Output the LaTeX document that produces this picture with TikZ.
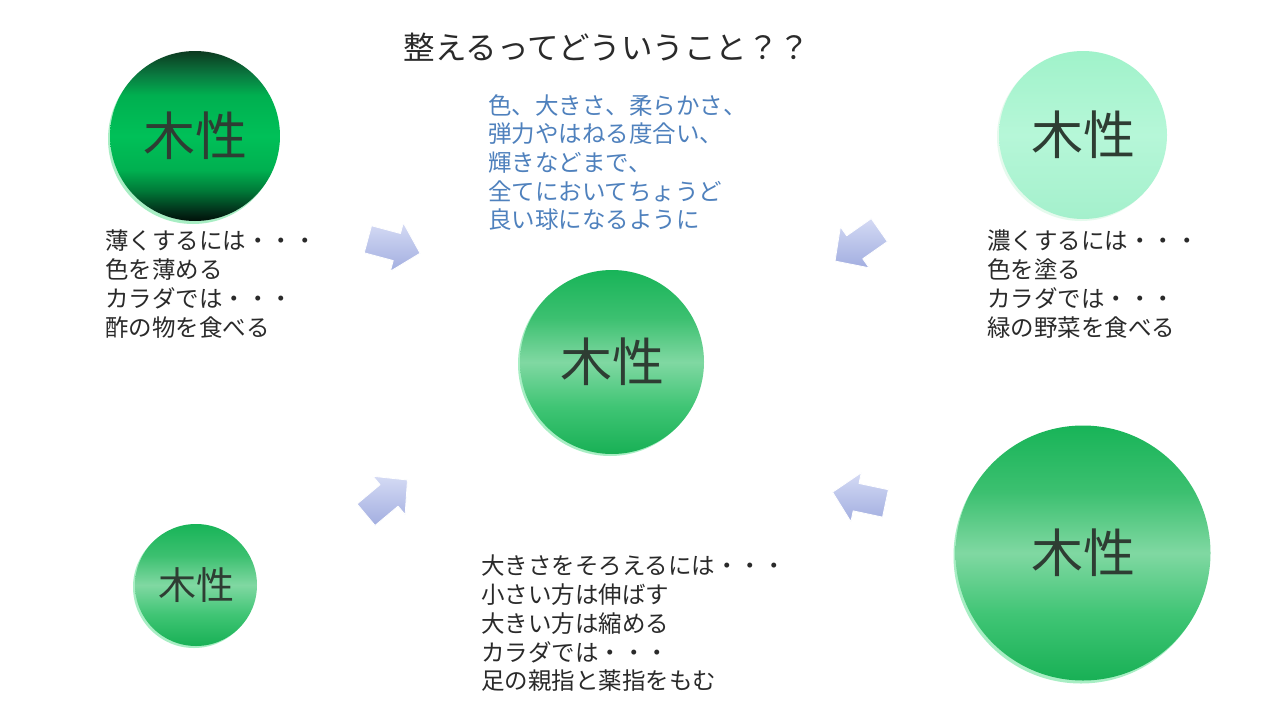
\documentclass[tikz,border=0pt]{standalone}
\usepackage{fontspec}
\setmainfont{Noto Sans CJK JP}
\definecolor{textgray}{HTML}{2A2A2A}
\definecolor{bluetext}{HTML}{4F81BD}
\definecolor{kanji}{HTML}{2E3D33}
\definecolor{rimgreen}{HTML}{A8EEC4}
\definecolor{arrlight}{HTML}{D4DAF4}
\definecolor{arrdark}{HTML}{A2AEE0}
% TL dark ball
\definecolor{tla}{HTML}{010F08}
\definecolor{tlb}{HTML}{02301A}
\definecolor{tlc}{HTML}{007A38}
\definecolor{tld}{HTML}{00B050}
\definecolor{tle}{HTML}{00C058}
\definecolor{tlf}{HTML}{0A7A40}
\definecolor{tlg}{HTML}{0C3A20}
\pgfdeclareverticalshading{tlshade}{100bp}{color(0bp)=(tla); color(25bp)=(tla); color(28bp)=(tlb); color(34bp)=(tlc); color(40bp)=(tld); color(50bp)=(tle); color(62bp)=(tld); color(68bp)=(tlf); color(75bp)=(tlg); color(100bp)=(tlg)}
% medium green balls
\definecolor{mga}{HTML}{18B055}
\definecolor{mgb}{HTML}{40C575}
\definecolor{mgc}{HTML}{80D8A2}
\definecolor{mgd}{HTML}{3CC070}
\definecolor{mge}{HTML}{18B458}
\pgfdeclareverticalshading{mgshade}{100bp}{color(0bp)=(mga); color(25bp)=(mga); color(38bp)=(mgb); color(50bp)=(mgc); color(62bp)=(mgd); color(75bp)=(mge); color(100bp)=(mge)}
% mint ball
\definecolor{mta}{HTML}{A4F0CC}
\definecolor{mtb}{HTML}{B6F7D8}
\definecolor{mtc}{HTML}{A0F2CA}
\pgfdeclareverticalshading{mtshade}{100bp}{color(0bp)=(mta); color(25bp)=(mta); color(50bp)=(mtb); color(75bp)=(mtc); color(100bp)=(mtc)}
\newcommand\blockarr[2]{%
  \begin{scope}[shift={(#1)}, rotate=#2]
    \path[blockarrow] (-26,-14) -- (4,-14) -- (4,-25) -- (28,0) -- (4,25) -- (4,14) -- (-26,14) -- cycle;
  \end{scope}}
\begin{document}
\begin{tikzpicture}[x=1pt,y=-1pt,
  txt/.style={anchor=north west, inner sep=0pt, align=left, font=\fontsize{23.5}{28.7}\selectfont, text=textgray},
  ball/.style={circle, inner sep=0pt, text=kanji, font=\fontsize{52}{52}\selectfont},
  rim/.style={circle, fill=rimgreen, inner sep=0pt},
  blockarrow/.style={top color=arrlight, bottom color=arrdark, draw=white, line width=0.8pt, line join=round}
]
\useasboundingbox[fill=white] (0,0) rectangle (1280,720);

% title
\node[inner sep=0pt, text=textgray, font=\fontsize{31.5}{31.5}\selectfont] (title) at (607,47) {整えるってどういうこと？？};

% rims (light edge behind each ball)
\node[rim, minimum size=170pt] (tlrim) at (193,139) {};
\node[rim, minimum size=168pt, fill=white!70!rimgreen] (trrim) at (1081,137) {};
\node[rim, minimum size=184pt] (crim) at (610,364) {};
\node[rim, minimum size=122pt] (blrim) at (194,587) {};
\node[rim, minimum size=255pt] (brrim) at (1081,556) {};

% balls
\node[ball, minimum size=170pt, shading=tlshade] (tl) at (195,136) {木性};
\node[ball, minimum size=168pt, shading=mtshade] (tr) at (1083,135) {木性};
\node[ball, minimum size=184pt, shading=mgshade] (c) at (612,362) {木性};
\node[ball, minimum size=122pt, shading=mgshade, font=\fontsize{38}{38}\selectfont] (bl) at (196,585) {木性};
\node[ball, minimum size=255pt, shading=mgshade] (br) at (1083,553) {木性};

% arrows
\blockarr{393,246}{-15}
\blockarr{858,245}{215}
\blockarr{386,498}{40}
\blockarr{860,498}{168}

% texts
\node[txt] (tltext) at (105,230) {薄くするには・・・\\色を薄める\\カラダでは・・・\\酢の物を食べる};
\node[txt] (trtext) at (987,230) {濃くするには・・・\\色を塗る\\カラダでは・・・\\緑の野菜を食べる};
\node[txt, text=bluetext] (bluetxt) at (488,94) {色、大きさ、柔らかさ、\\弾力やはねる度合い、\\輝きなどまで、\\全てにおいてちょうど\\良い球になるように};
\node[txt] (bottext) at (481,555) {大きさをそろえるには・・・\\小さい方は伸ばす\\大きい方は縮める\\カラダでは・・・\\足の親指と薬指をもむ};
\end{tikzpicture}
\end{document}
